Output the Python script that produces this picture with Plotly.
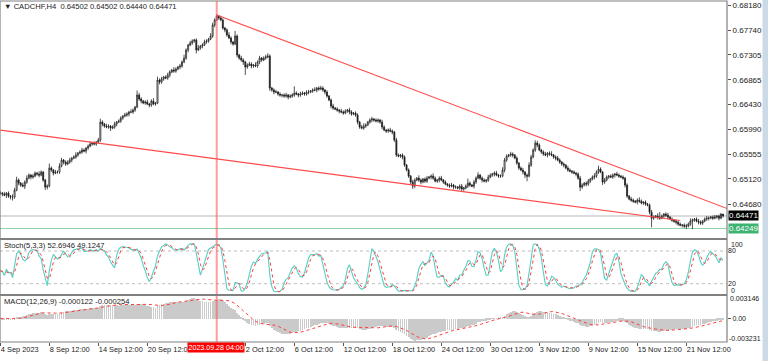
import numpy as np
import plotly.graph_objects as go

# ---------------- data ----------------
# H4 closes, in units of 0.00001 (CADCHF), one per bar, first bar = 4 Sep 12:00
closes_pts = [
    64871, 64854, 64836, 64871, 64818, 64801, 64801, 64924, 65100, 65047, 65012, 64994, 65065, 65135, 65188, 65153, 65170, 65223, 65206, 65188, 65241, 65100, 64977, 64994,
    65311, 65276, 65223, 65241, 65241, 65346, 65452, 65417, 65382, 65417, 65452, 65487, 65505, 65540, 65575, 65593, 65628, 65610, 65663, 65698, 65734, 65751, 65734, 65769, 65804,
    66121, 66086, 66050, 66033, 66050, 66015, 66033, 66086, 66121, 66138, 66191, 66226, 66244, 66262, 66297, 66297, 66332, 66385, 66596, 66526, 66490, 66455, 66473, 66438, 66420, 66490, 66438, 66455,
    66860, 66825, 66878, 66913, 66895, 66948, 67001, 67036, 67018, 67054, 67089, 67106, 67177, 67247, 67388, 67476, 67511, 67546, 67564, 67388, 67423, 67458, 67476, 67529, 67546, 67582, 67634, 67828, 67916, 67986,
    67951, 67916, 67775, 67740, 67652, 67599, 67529, 67494, 67634, 67300, 67247, 67212, 67177, 67089, 67124, 67142, 67106, 67124, 67106, 67177, 67247, 67212, 67247, 67265, 67282,
    66719, 66684, 66649, 66649, 66614, 66596, 66596, 66578, 66596, 66561, 66578, 66596, 66631, 66614, 66596, 66614, 66631, 66614, 66649, 66649, 66666, 66684, 66684, 66719, 66702, 66719, 66684, 66649, 66578,
    66508, 66402, 66367, 66350, 66332, 66314, 66297, 66279, 66314, 66332, 66297, 66262, 66279, 66244, 66121, 66033, 66015, 66050, 66068, 66121, 66156, 66174, 66156, 66138, 66156, 66121, 66033, 65980, 65962, 65980, 65962, 65945, 65804,
    65540, 65522, 65540, 65505, 65364, 65276, 65170, 65065, 64994, 65100, 65135, 65100, 65065, 65118, 65082, 65135, 65153, 65170, 65135, 65082, 65100, 65135, 65100, 65065, 65030, 65012, 64994, 65012, 64977, 64977, 64959, 64994, 64942, 64959, 64994, 65047, 65012,
    64994, 65065, 65135, 65188, 65135, 65100, 65082, 65100, 65153, 65188, 65206, 65223, 65188, 65170, 65170, 65276, 65452, 65522, 65540, 65558, 65540, 65487, 65399, 65311, 65276, 65241, 65188, 65170, 65364, 65505, 65628, 65751, 65716, 65628, 65593,
    65558, 65540, 65575, 65558, 65540, 65505, 65487, 65452, 65417, 65382, 65364, 65311, 65276, 65258, 65241, 65223, 65206, 65135, 64977, 65012, 65047, 65030, 65082, 65118, 65153, 65170, 65241, 65294, 65241, 65065, 65100, 65153, 65170, 65153, 65188, 65206, 65188, 65170, 65153, 65135, 65012,
    64818, 64766, 64748, 64730, 64713, 64748, 64730, 64695, 64713, 64678, 64660, 64537, 64431, 64449, 64466, 64449, 64431, 64466, 64502, 64484, 64449, 64414, 64396, 64378, 64361, 64326, 64308, 64308, 64290, 64290, 64326, 64378, 64396, 64414, 64378, 64361, 64343, 64378, 64414, 64431, 64431, 64449, 64431, 64449, 64466, 64431, 64502, 64471,
]
first_open_pts = 64880

# wick lengths above / below the candle body, in pips (0.0001)
wick_up_pips = [
    3, 2, 4, 2, 3, 2, 5, 4, 6, 3, 2, 4, 3, 5, 3, 2, 4, 3, 2, 5,
    3, 2, 2, 3, 8, 3, 2, 4, 3, 5, 4, 2, 3, 3, 4, 2, 3, 5, 2, 3,
    4, 3, 2, 3, 5, 2, 3, 2, 4, 6, 3, 2, 4, 3, 2, 3, 4, 2, 3, 3,
    2, 4, 3, 2, 5, 3, 2, 8, 4, 3, 2, 3, 4, 2, 3, 5, 2, 6, 3, 4,
    2, 3, 4, 3, 2, 5, 3, 2, 4, 3, 6, 3, 2, 4, 3, 2, 3, 5, 2, 3,
    4, 3, 2, 5, 4, 3, 3, 2, 4, 3, 2, 3, 5, 3, 2, 9, 3, 2, 4, 3,
    2, 3, 4, 3, 2, 5, 3, 4, 2, 3, 4, 5, 3, 2, 3, 4, 2, 3, 2, 3,
    4, 2, 3, 3, 12, 3, 2, 4, 3, 2, 3, 4, 2, 3, 5, 2, 3, 4, 3, 2,
    3, 2, 3, 4, 2, 3, 2, 4, 3, 3, 2, 4, 3, 2, 3, 3, 2, 4, 5, 3,
    2, 3, 4, 2, 3, 3, 2, 4, 3, 2, 3, 4, 3, 2, 4, 3, 2, 3, 3, 2,
    3, 2, 4, 3, 2, 5, 3, 2, 3, 4, 2, 3, 5, 3, 2, 3, 4, 2, 3, 2,
    3, 4, 2, 3, 2, 3, 4, 2, 3, 8, 3, 2, 4, 3, 5, 2, 3, 3, 2, 4,
    3, 2, 3, 4, 2, 3, 5, 4, 3, 2, 4, 3, 2, 3, 2, 3, 4, 2, 3, 5,
    4, 3, 5, 4, 3, 2, 3, 4, 2, 3, 5, 2, 3, 4, 3, 2, 3, 2, 4, 3,
    2, 3, 2, 3, 4, 3, 2, 3, 4, 2, 3, 5, 3, 6, 3, 2, 4, 3, 2, 3,
    3, 2, 4, 3, 2, 3, 2, 3, 2, 4, 3, 2, 3, 5, 3, 2, 3, 2, 3, 4,
    3, 2, 5, 9, 3, 2, 3, 4, 2, 3, 2, 3, 2, 3, 2, 3, 4, 3, 5, 3,
    2, 3, 4, 3, 2, 3, 4, 3, 2, 3, 4, 2, 3, 2, 0,
]
wick_dn_pips = [
    3, 4, 2, 5, 3, 4, 6, 3, 2, 4, 3, 2, 5, 3, 2, 4, 3, 2, 3, 4,
    2, 3, 5, 4, 2, 3, 4, 2, 3, 3, 2, 4, 3, 2, 3, 4, 2, 3, 3, 2,
    3, 2, 4, 3, 2, 3, 2, 3, 2, 3, 4, 3, 2, 3, 5, 2, 3, 4, 2, 3,
    3, 2, 3, 4, 2, 3, 3, 2, 3, 4, 2, 3, 2, 4, 3, 2, 3, 2, 4, 3,
    3, 2, 3, 4, 2, 3, 3, 2, 4, 3, 2, 3, 4, 2, 3, 3, 6, 2, 3, 4,
    2, 3, 3, 2, 3, 4, 2, 3, 2, 3, 4, 3, 2, 4, 3, 2, 4, 3, 3, 5,
    14, 3, 2, 4, 3, 2, 3, 4, 3, 2, 3, 2, 5, 3, 4, 2, 3, 3, 4, 3,
    3, 4, 2, 3, 3, 2, 4, 3, 2, 3, 3, 4, 2, 3, 2, 4, 3, 2, 3, 4,
    3, 2, 4, 3, 2, 3, 4, 2, 3, 2, 3, 4, 3, 2, 3, 4, 3, 2, 3, 3,
    2, 3, 4, 3, 2, 3, 3, 4, 2, 3, 3, 2, 4, 3, 3, 2, 3, 4, 3, 2,
    3, 4, 5, 3, 2, 3, 4, 2, 3, 3, 2, 4, 3, 2, 3, 4, 2, 3, 2, 3,
    3, 2, 4, 3, 2, 3, 5, 3, 2, 3, 3, 2, 4, 3, 2, 3, 4, 2, 3, 3,
    2, 3, 4, 2, 3, 3, 2, 4, 3, 2, 3, 4, 2, 3, 3, 2, 4, 5, 9, 2,
    3, 2, 3, 4, 2, 3, 3, 2, 4, 3, 2, 3, 4, 2, 3, 3, 4, 2, 3, 2,
    3, 2, 4, 3, 7, 3, 2, 4, 3, 3, 2, 4, 3, 3, 2, 5, 3, 2, 3, 2,
    3, 4, 2, 3, 2, 3, 4, 3, 2, 3, 3, 2, 4, 3, 2, 3, 3, 2, 4, 16,
    3, 2, 4, 3, 2, 3, 3, 4, 2, 3, 3, 4, 3, 2, 4, 3, 5, 2, 3, 14,
    3, 2, 4, 3, 3, 2, 3, 4, 2, 3, 2, 3, 4, 2, 3,
]

price_ticks = [0.68180, 0.67740, 0.67305, 0.66865, 0.66430, 0.65990, 0.65555, 0.65120, 0.64680]
time_tick_bars = [0, 24, 48, 72, 120, 144, 168, 192, 216, 240, 264, 288, 312, 336]
time_tick_labels = ["4 Sep 2023", "8 Sep 12:00", "14 Sep 12:00", "20 Sep 12:00", "2 Oct 12:00",
                    "6 Oct 12:00", "12 Oct 12:00", "18 Oct 12:00", "24 Oct 12:00", "30 Oct 12:00",
                    "3 Nov 12:00", "9 Nov 12:00", "15 Nov 12:00", "21 Nov 12:00"]
crosshair_bar = 106
crosshair_label = "2023.09.28 04:00"
bid_price = 0.64471
line_price = 0.64249
upper_trend = [(106, 0.68004), (356, 0.64600)]
lower_trend = [(0, 0.65980), (333, 0.64390)]
title_text = "\u25bc CADCHF,H4  0.64502 0.64502 0.64440 0.64471"
stoch_text = "Stoch(5,3,3) 52.6946 49.1247"
macd_text = "MACD(12,26,9) -0.000122 -0.000254"

# ---------------- derived series ----------------
n = len(closes_pts)
assert n == 355 and len(wick_up_pips) == n and len(wick_dn_pips) == n, (n, len(wick_up_pips), len(wick_dn_pips))
bars = np.arange(n)
close = np.array(closes_pts) / 1e5
opens = np.array([first_open_pts] + closes_pts[:-1]) / 1e5
high = np.maximum(opens, close) + np.array(wick_up_pips) * 1e-4
low = np.minimum(opens, close) - np.array(wick_dn_pips) * 1e-4

# Stochastic(5,3,3)
ll = np.array([low[max(0, i - 4):i + 1].min() for i in range(n)])
hh = np.array([high[max(0, i - 4):i + 1].max() for i in range(n)])
num = close - ll
den = hh - ll
stoch_k = np.array([100 * num[max(0, i - 2):i + 1].sum() / max(den[max(0, i - 2):i + 1].sum(), 1e-9) for i in range(n)])
stoch_d = np.array([stoch_k[max(0, i - 2):i + 1].mean() for i in range(n)])


def ema(x, p):
    a = 2 / (p + 1)
    out = np.empty_like(x)
    out[0] = x[0]
    for i in range(1, len(x)):
        out[i] = a * x[i] + (1 - a) * out[i - 1]
    return out


macd_main = ema(close, 12) - ema(close, 26)
macd_sig = np.array([macd_main[max(0, i - 8):i + 1].mean() for i in range(n)])

# ---------------- layout geometry ----------------
W, H = 768, 361
ML, MR, MT, MB = 0, 41, 1, 19
PW, PH = W - ML - MR, H - MT - MB


def fy(py):
    return 1 - (py - MT) / PH


dom_main = [fy(238.5), 1]
dom_stoch = [fy(294.5), fy(239.5)]
dom_macd = [0, fy(295.5)]
ppx = 199 / 0.035
main_range = [0.68180 - (238.5 - 5) / ppx, 0.68180 + (5 - MT) / ppx]
px_per_bar = 49 / 24
x0 = 24 - 49.3 / px_per_bar
x_range = [x0, x0 + PW / px_per_bar]

FONT = "Liberation Sans"
TXT = "#222222"
BORDER = "#808080"

fig = go.Figure()
fig.add_trace(go.Candlestick(
    x=bars, open=opens, high=high, low=low, close=close,
    increasing=dict(line=dict(color="#1a1a1a", width=0.75), fillcolor="white"),
    decreasing=dict(line=dict(color="#1a1a1a", width=0.75), fillcolor="#1a1a1a"),
    whiskerwidth=0, hoverinfo="skip", yaxis="y", showlegend=False))
fig.add_trace(go.Scatter(x=bars, y=stoch_k, mode="lines", yaxis="y2",
                         line=dict(color="#55cfc4", width=1.1), hoverinfo="skip", showlegend=False))
fig.add_trace(go.Scatter(x=bars, y=stoch_d, mode="lines", yaxis="y2",
                         line=dict(color="#ff3b3b", width=1, dash="dot"), hoverinfo="skip", showlegend=False))
fig.add_trace(go.Bar(x=bars, y=macd_main, yaxis="y3", width=0.4,
                     marker=dict(color="#cacaca", line=dict(width=0)), hoverinfo="skip", showlegend=False))
fig.add_trace(go.Scatter(x=bars, y=macd_sig, mode="lines", yaxis="y3",
                         line=dict(color="#ff3b3b", width=1, dash="dot"), hoverinfo="skip", showlegend=False))

shapes = []
# window edge strip at right
shapes.append(dict(type="rect", xref="paper", yref="paper", x0=762.5 / PW, x1=W / PW,
                   y0=-MB / PH, y1=1 + MT / PH, line=dict(width=0), fillcolor="#ccd9e6", layer="below"))
# horizontal price lines
shapes.append(dict(type="line", xref="paper", x0=0, x1=1, yref="y", y0=bid_price, y1=bid_price,
                   line=dict(color="#cfcfcf", width=1.5), layer="below"))
shapes.append(dict(type="line", xref="paper", x0=0, x1=1, yref="y", y0=line_price, y1=line_price,
                   line=dict(color="#8fd3a6", width=1), layer="below"))
# trend lines
for (xa, ya), (xb, yb) in [upper_trend, lower_trend]:
    shapes.append(dict(type="line", xref="x", yref="y", x0=xa, y0=ya, x1=xb, y1=yb,
                       line=dict(color="#ff4a4a", width=1.1)))
# stoch levels
for lv in (20, 80):
    shapes.append(dict(type="line", xref="paper", x0=0, x1=1, yref="y2", y0=lv, y1=lv,
                       line=dict(color="#bdbdbd", width=1, dash="dot"), layer="below"))
# crosshair
shapes.append(dict(type="line", xref="x", x0=crosshair_bar, x1=crosshair_bar, yref="paper", y0=0, y1=1,
                   line=dict(color="rgba(255,90,90,0.6)", width=2)))
# panel borders
for d in (dom_main, dom_stoch, dom_macd):
    shapes.append(dict(type="rect", xref="paper", yref="paper", x0=0, x1=1, y0=d[0], y1=d[1],
                       line=dict(color=BORDER, width=1.2), fillcolor="rgba(0,0,0,0)"))

ax_font = dict(family=FONT, size=8, color=TXT)
small_font = dict(family=FONT, size=7, color=TXT)
label_font = dict(family=FONT, size=7.6, color=TXT)
annotations = [
    dict(text=title_text, xref="paper", yref="paper", x=0, y=fy(6.5), xanchor="left", yanchor="middle",
         xshift=2, showarrow=False, font=label_font),
    dict(text=stoch_text, xref="paper", yref="paper", x=0, y=fy(245.5), xanchor="left", yanchor="middle",
         xshift=2, showarrow=False, font=label_font),
    dict(text=macd_text, xref="paper", yref="paper", x=0, y=fy(301), xanchor="left", yanchor="middle",
         xshift=2, showarrow=False, font=label_font),
    dict(text="%.5f" % bid_price, xref="paper", yref="y", x=1, y=bid_price, xanchor="left", yanchor="middle",
         xshift=1, showarrow=False, font=dict(family=FONT, size=8, color="white"), bgcolor="black", borderpad=0),
    dict(text="%.5f" % line_price, xref="paper", yref="y", x=1, y=line_price, xanchor="left", yanchor="middle",
         xshift=1, showarrow=False, font=dict(family=FONT, size=8, color="white"), bgcolor="#3cb371", borderpad=0),
    dict(text=crosshair_label, xref="x", yref="paper", x=crosshair_bar, y=fy(347), xanchor="center",
         yanchor="middle", xshift=-1, showarrow=False, font=dict(family=FONT, size=7.1, color="white"),
         bgcolor="#ff0000", borderpad=0.5),
    dict(text="100", xref="paper", yref="paper", x=1, y=fy(244.5), xanchor="left", yanchor="middle", xshift=2,
         showarrow=False, font=small_font),
    dict(text="0", xref="paper", yref="paper", x=1, y=fy(290), xanchor="left", yanchor="middle", xshift=2,
         showarrow=False, font=small_font),
    dict(text="0.003146", xref="paper", yref="paper", x=1, y=fy(298.5), xanchor="left", yanchor="middle", xshift=1,
         showarrow=False, font=small_font),
    dict(text="-0.003231", xref="paper", yref="paper", x=1, y=fy(338), xanchor="left", yanchor="middle", xshift=0,
         showarrow=False, font=small_font),
]

fig.update_layout(
    width=W, height=H, margin=dict(l=ML, r=MR, t=MT, b=MB, autoexpand=False),
    paper_bgcolor="white", plot_bgcolor="white", showlegend=False, bargap=0,
    font=dict(family=FONT, size=8, color=TXT),
    xaxis=dict(range=x_range, anchor="y3", showgrid=False, zeroline=False, showline=False,
               tickvals=time_tick_bars, ticktext=time_tick_labels, ticks="outside", ticklen=3,
               tickcolor="#555555", ticklabelposition="outside right", tickangle=0,
               tickfont=dict(family=FONT, size=7.4, color=TXT),
               automargin=False, rangeslider=dict(visible=False), fixedrange=True),
    yaxis=dict(domain=dom_main, range=main_range, side="right", anchor="x", showgrid=False,
               zeroline=False, showline=False, tickvals=price_ticks,
               ticktext=["%.5f" % v for v in price_ticks], ticks="outside", ticklen=3,
               tickcolor="#555555", tickfont=ax_font, automargin=False, fixedrange=True),
    yaxis2=dict(domain=dom_stoch, range=[0.2, 101.1], side="right", anchor="x", showgrid=False,
                zeroline=False, showline=False, tickvals=[80, 20], ticktext=["80", "20"], ticks="",
                tickfont=small_font, automargin=False, fixedrange=True),
    yaxis3=dict(domain=dom_macd, range=[-0.003231, 0.003146], side="right", anchor="x", showgrid=False,
                zeroline=False, showline=False, tickvals=[0], ticktext=["0.00"], ticks="outside", ticklen=3,
                tickcolor="#555555", tickfont=small_font, automargin=False, fixedrange=True),
    shapes=shapes, annotations=annotations,
)

fig.write_html("out.html", config=dict(displayModeBar=False),
               post_script="document.body.style.margin='0px';document.body.style.overflow='hidden';")
